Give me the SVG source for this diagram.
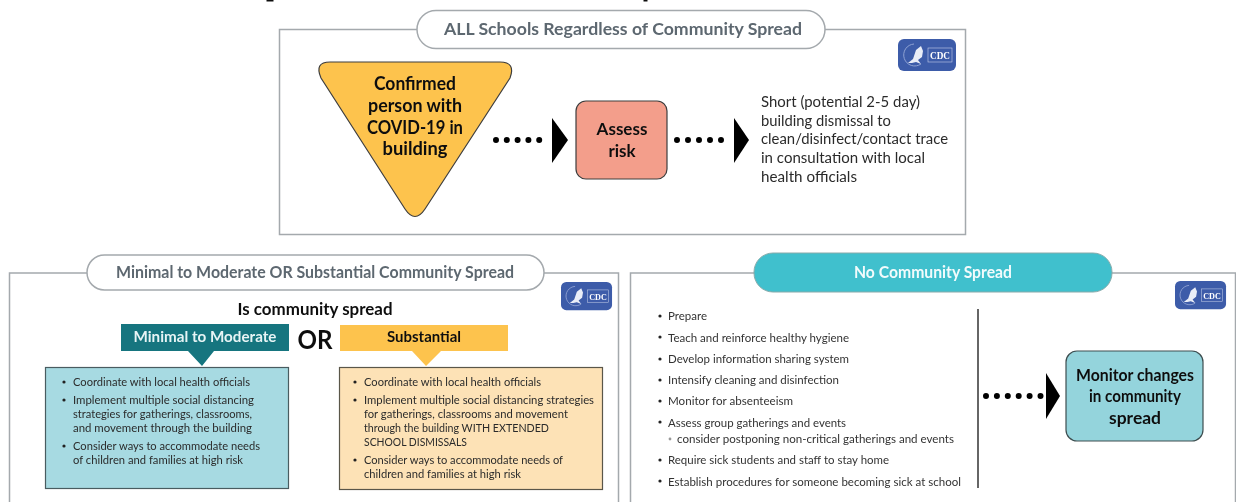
<svg xmlns="http://www.w3.org/2000/svg" width="1236" height="502" viewBox="0 0 1236 502">
<style>
text{font-family:"Lato","Open Sans","Liberation Sans",sans-serif;fill:#222}
.panel{fill:#fff;stroke:#a4a9ad;stroke-width:1.5}
.pill{fill:#fff;stroke:#a4a9ad;stroke-width:1.5}
.pt{font-size:17px;font-weight:700;fill:#5d6770;text-anchor:middle}
.b{font-weight:700;fill:#111;text-anchor:middle}
.s{font-size:11.5px;fill:#2b2b2b}
.m{font-size:14.5px;fill:#2b2b2b}
.l{font-size:12px;fill:#333}
.logo{fill:#3d5ba9}
.lt{font-family:"Liberation Serif",serif;font-size:9.500px;font-weight:700;fill:#fff;text-anchor:middle}
.dots{stroke:#000;stroke-width:6;stroke-linecap:round;fill:none}
.bu{fill:#222}
</style>
<defs>
<filter id="soft" x="0" y="0" width="100%" height="100%" filterUnits="userSpaceOnUse"><feGaussianBlur stdDeviation="0.4"/></filter>
<g id="cdc">
<rect width="58" height="32" rx="6" class="logo"/>
<path d="M16 5 A11 11 0 1 0 23 25" fill="none" stroke="#8fa3d3" stroke-width="1"/>
<path d="M10 24 L15 20 L18 11 L23 7 L25 12 L24 18 L20 21 L23 25 L18 23 L14 24 Z" fill="#e9edf7"/>
<rect x="30" y="9" width="24" height="14" fill="none" stroke="#c5d0ea" stroke-width=".6"/>
<text class="lt" x="42" y="20" textLength="20" lengthAdjust="spacingAndGlyphs">CDC</text>
</g>
</defs>
<g filter="url(#soft)">
<rect id="page" width="1236" height="502" fill="#fff"/>
<path id="clipped-marks" d="M266.500 0 H273.500 V1.500 H266.500 Z M643.500 0 H647.500 V1.500 H643.500 Z" fill="#111"/>
<g id="panel-all">
<rect class="panel" x="279.500" y="29.500" width="686" height="205"/>
<rect class="pill" x="417" y="10.500" width="408" height="38" rx="19"/>
<text class="pt" x="623" y="34.500" textLength="358" lengthAdjust="spacingAndGlyphs">ALL Schools Regardless of Community Spread</text>
<use href="#cdc" x="898" y="39"/>
</g>
<g id="node-confirmed">
<path d="M330 62 H500 Q516 62 510 78 L425 209 Q415 224 405 209 L321 78 Q314 62 330 62 Z" fill="#fdc34e" stroke="#3e3e3e" stroke-width="1.200"/>
<text class="b" font-size="18.500" x="415" y="90" textLength="82" lengthAdjust="spacingAndGlyphs">Confirmed</text>
<text class="b" font-size="18.500" x="415" y="112" textLength="94" lengthAdjust="spacingAndGlyphs">person with</text>
<text class="b" font-size="18.500" x="415" y="134" textLength="96" lengthAdjust="spacingAndGlyphs">COVID-19 in</text>
<text class="b" font-size="18.500" x="415" y="155" textLength="65" lengthAdjust="spacingAndGlyphs">building</text>
</g>
<g id="node-assess">
<rect x="576" y="101" width="91" height="78" rx="10" fill="#f39e8b" stroke="#3e3e3e" stroke-width="1.200"/>
<text class="b" font-size="17" x="622" y="135">Assess</text>
<text class="b" font-size="17" x="622" y="157">risk</text>
</g>
<g id="node-short">
<text class="m" x="761" y="107" textLength="159" lengthAdjust="spacingAndGlyphs">Short (potential 2-5 day)</text>
<text class="m" x="761" y="126" textLength="130" lengthAdjust="spacingAndGlyphs">building dismissal to</text>
<text class="m" x="761" y="144" textLength="187" lengthAdjust="spacingAndGlyphs">clean/disinfect/contact trace</text>
<text class="m" x="761" y="163" textLength="164" lengthAdjust="spacingAndGlyphs">in consultation with local</text>
<text class="m" x="761" y="182" textLength="96" lengthAdjust="spacingAndGlyphs">health officials</text>
</g>
<g id="panel-minimal">
<rect class="panel" x="9.500" y="273" width="609" height="240"/>
<rect class="pill" x="87" y="255" width="457" height="35" rx="17.500"/>
<text class="pt" x="315" y="278" textLength="398" lengthAdjust="spacingAndGlyphs">Minimal to Moderate OR Substantial Community Spread</text>
<g transform="translate(561 282) scale(.88)"><use href="#cdc"/></g>
<text class="b" font-size="17" x="315" y="315" textLength="155" lengthAdjust="spacingAndGlyphs">Is community spread</text>
<text class="b" font-size="26" x="315" y="349" textLength="35" lengthAdjust="spacingAndGlyphs">OR</text>
</g>
<g id="node-minimal">
<path d="M121 324 H289 V351 H214 L202 366 L188 351 H121 Z" fill="#12757f"/>
<text class="b" font-size="15.500" x="205" y="342" textLength="143" lengthAdjust="spacingAndGlyphs" style="fill:#e8f4f5">Minimal to Moderate</text>
<rect x="45.500" y="367.500" width="243" height="121" fill="#a7dae2" stroke="#4a5c60" stroke-width="1.200"/>
<circle class="bu" cx="64" cy="382" r="1.600"/><text class="s" x="73" y="386" textLength="177" lengthAdjust="spacingAndGlyphs">Coordinate with local health officials</text>
<circle class="bu" cx="64" cy="400" r="1.600"/><text class="s" x="73" y="404" textLength="181" lengthAdjust="spacingAndGlyphs">Implement multiple social distancing</text>
<text class="s" x="73" y="418" textLength="179" lengthAdjust="spacingAndGlyphs">strategies for gatherings, classrooms,</text>
<text class="s" x="73" y="432" textLength="179" lengthAdjust="spacingAndGlyphs">and movement through the building</text>
<circle class="bu" cx="64" cy="446" r="1.600"/><text class="s" x="73" y="450" textLength="187" lengthAdjust="spacingAndGlyphs">Consider ways to accommodate needs</text>
<text class="s" x="73" y="464" textLength="170" lengthAdjust="spacingAndGlyphs">of children and families at high risk</text>
</g>
<g id="node-substantial">
<path d="M340 325 H508 V351 H441 L426 366 L412 351 H340 Z" fill="#fdc34e"/>
<text class="b" font-size="14.500" x="424" y="342" textLength="74" lengthAdjust="spacingAndGlyphs">Substantial</text>
<rect x="339.500" y="367.500" width="263" height="122" fill="#fde2b6" stroke="#5a5648" stroke-width="1.200"/>
<circle class="bu" cx="355" cy="382" r="1.600"/><text class="s" x="364" y="386" textLength="177" lengthAdjust="spacingAndGlyphs">Coordinate with local health officials</text>
<circle class="bu" cx="355" cy="400" r="1.600"/><text class="s" x="364" y="404" textLength="230" lengthAdjust="spacingAndGlyphs">Implement multiple social distancing strategies</text>
<text class="s" x="364" y="418" textLength="204" lengthAdjust="spacingAndGlyphs">for gatherings, classrooms and movement</text>
<text class="s" x="364" y="432" textLength="185" lengthAdjust="spacingAndGlyphs">through the building WITH EXTENDED</text>
<text class="s" x="364" y="446" textLength="103" lengthAdjust="spacingAndGlyphs">SCHOOL DISMISSALS</text>
<circle class="bu" cx="355" cy="460" r="1.600"/><text class="s" x="364" y="464" textLength="199" lengthAdjust="spacingAndGlyphs">Consider ways to accommodate needs of</text>
<text class="s" x="364" y="478" textLength="157" lengthAdjust="spacingAndGlyphs">children and families at high risk</text>
</g>
<g id="panel-none">
<rect class="panel" x="630.500" y="273" width="605" height="240"/>
<rect x="754" y="253" width="358" height="39" rx="19" fill="#40c0cd" stroke="#8aa" stroke-width="1"/>
<text class="pt" x="933" y="278" textLength="158" lengthAdjust="spacingAndGlyphs" style="fill:#f2fbfc">No Community Spread</text>
<g transform="translate(1175 281) scale(.88)"><use href="#cdc"/></g>
<circle class="bu" cx="660" cy="316" r="1.600"/><text class="l" x="668" y="320" textLength="39" lengthAdjust="spacingAndGlyphs">Prepare</text>
<circle class="bu" cx="660" cy="337" r="1.600"/><text class="l" x="668" y="342" textLength="181" lengthAdjust="spacingAndGlyphs">Teach and reinforce healthy hygiene</text>
<circle class="bu" cx="660" cy="359" r="1.600"/><text class="l" x="668" y="363" textLength="181" lengthAdjust="spacingAndGlyphs">Develop information sharing system</text>
<circle class="bu" cx="660" cy="380" r="1.600"/><text class="l" x="668" y="384" textLength="171" lengthAdjust="spacingAndGlyphs">Intensify cleaning and disinfection</text>
<circle class="bu" cx="660" cy="401" r="1.600"/><text class="l" x="668" y="405" textLength="125" lengthAdjust="spacingAndGlyphs">Monitor for absenteeism</text>
<circle class="bu" cx="660" cy="422" r="1.600"/><text class="l" x="668" y="427" textLength="178" lengthAdjust="spacingAndGlyphs">Assess group gatherings and events</text>
<circle cx="670" cy="439" r="1.400" fill="#999"/><text class="l" x="677" y="443" textLength="277" lengthAdjust="spacingAndGlyphs">consider postponing non-critical gatherings and events</text>
<circle class="bu" cx="660" cy="460" r="1.600"/><text class="l" x="668" y="464" textLength="221" lengthAdjust="spacingAndGlyphs">Require sick students and staff to stay home</text>
<circle class="bu" cx="660" cy="481" r="1.600"/><text class="l" x="668" y="486" textLength="293" lengthAdjust="spacingAndGlyphs">Establish procedures for someone becoming sick at school</text>
<path d="M978 309 V488" stroke="#333" stroke-width="1.500"/>
</g>
<g id="node-monitor">
<rect x="1066" y="351" width="137" height="90" rx="11" fill="#94d4dc" stroke="#3e4e50" stroke-width="1.200"/>
<text class="b" font-size="17" x="1135" y="381" textLength="118" lengthAdjust="spacingAndGlyphs">Monitor changes</text>
<text class="b" font-size="17" x="1135" y="402" textLength="92" lengthAdjust="spacingAndGlyphs">in community</text>
<text class="b" font-size="17" x="1135" y="424" textLength="52" lengthAdjust="spacingAndGlyphs">spread</text>
</g>
<g id="connectors">
<path class="dots" stroke-dasharray="0 10.800" d="M496 140 H540"/><path d="M552 118 L568 140 L552 163 Z"/>
<path class="dots" stroke-dasharray="0 11" d="M677 140 H722"/><path d="M734 118 L749 140 L734 163 Z"/>
<path class="dots" stroke-dasharray="0 10.900" d="M986 396 H1041"/><path d="M1046 373 L1060 396 L1046 419 Z"/>
</g>
</g>
</svg>
